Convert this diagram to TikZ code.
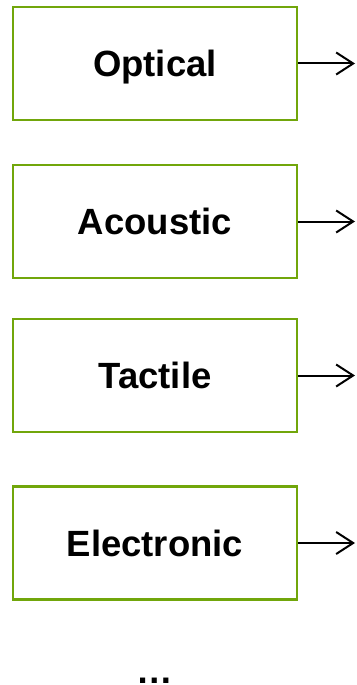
\documentclass[tikz,border=0pt]{standalone}
\usepackage{fontspec}
\setmainfont{Liberation Sans}
\usetikzlibrary{arrows.meta}
\definecolor{boxgreen}{RGB}{113,166,11}
\begin{document}
\begin{tikzpicture}[x=1pt,y=-1pt,
  sensebox/.style={draw=boxgreen, line width=2.3pt, minimum width=284pt,
    minimum height=113pt, inner sep=0pt, text height=26pt, text depth=0pt,
    font=\fontsize{36.5}{40}\selectfont\bfseries},
  outarrow/.style={line width=2pt, -{Straight Barb[length=17pt,width=22pt,line width=2pt]}}]
  \useasboundingbox (0,0) rectangle (356,685);
  % sensing modalities
  \node[sensebox] (optical)    at (155,63.5)  {Optical};
  \node[sensebox] (acoustic)   at (155,221.5) {Acoustic};
  \node[sensebox] (tactile)    at (155,375.5) {Tactile};
  \node[sensebox] (electronic) at (155,543)   {Electronic};
  % outputs
  \coordinate (o1) at (355,63.5);
  \coordinate (o2) at (355,221.5);
  \coordinate (o3) at (355,375.5);
  \coordinate (o4) at (355,543);
  \draw[outarrow] (optical.east) -- (o1);
  \draw[outarrow] (acoustic.east) -- (o2);
  \draw[outarrow] (tactile.east) -- (o3);
  \draw[outarrow] (electronic.east) -- (o4);
  % further modalities
  \node[anchor=base, inner sep=0pt, font=\fontsize{36.5}{40}\selectfont\bfseries] (more) at (155,683) {…};
\end{tikzpicture}
\end{document}
